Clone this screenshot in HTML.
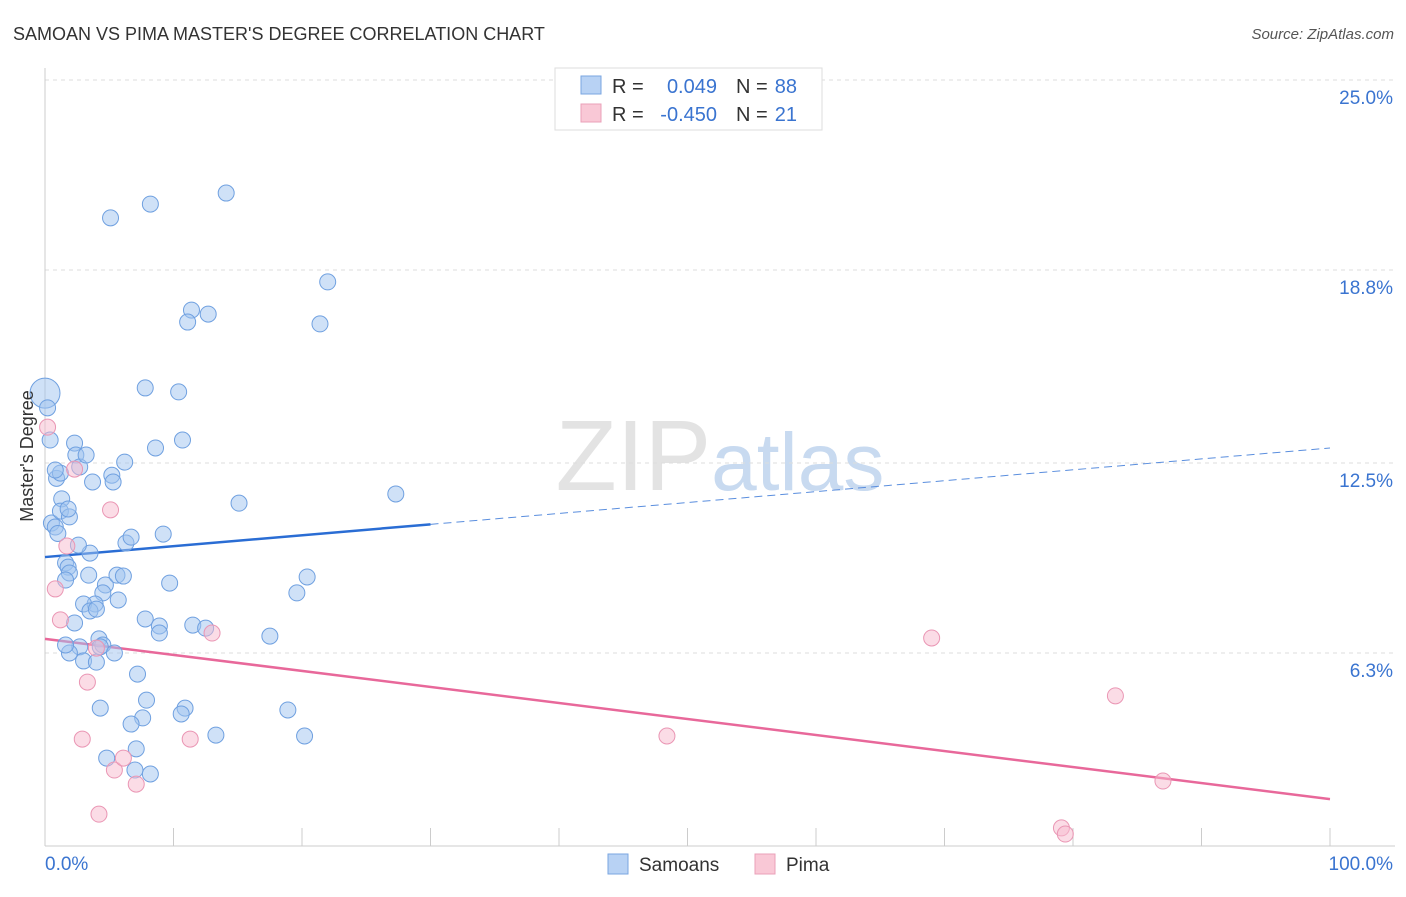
<!DOCTYPE html>
<html><head><meta charset="utf-8"><style>
body{margin:0;background:#fff;font-family:"Liberation Sans",sans-serif}
svg text{font-family:"Liberation Sans",sans-serif}
</style></head><body>
<svg id="chart" width="1406" height="892" xmlns="http://www.w3.org/2000/svg">
<text x="13" y="40" font-size="18" fill="#333">SAMOAN VS PIMA MASTER'S DEGREE CORRELATION CHART</text>
<text x="1394" y="39" font-size="15" fill="#555" text-anchor="end" font-style="italic">Source: ZipAtlas.com</text>
<text x="720" y="490" font-size="100" text-anchor="middle" fill="#e3e3e3" font-family="Liberation Serif">ZIP<tspan fill="#c8daf0" font-family="Liberation Sans" font-size="82">atlas</tspan></text>
<g id="grid"></g>
<g id="axes"></g>
<g id="lines"></g>
<g id="points"></g>
<text transform="translate(33,456) rotate(-90)" font-size="18" fill="#333" text-anchor="middle">Master's Degree</text>
<g>
<rect x="555" y="68" width="267" height="62" fill="#fff" stroke="#ddd"/>
<rect x="581" y="76" width="20" height="18" fill="#b8d2f4" stroke="#7aa6e0"/>
<rect x="581" y="104" width="20" height="18" fill="#f9c8d6" stroke="#eaa0b8"/>
<text x="612" y="93" font-size="20" fill="#333">R =</text>
<text x="717" y="93" font-size="20" fill="#3a74d0" text-anchor="end">0.049</text>
<text x="736" y="93" font-size="20" fill="#333">N =</text>
<text x="797" y="93" font-size="20" fill="#3a74d0" text-anchor="end">88</text>
<text x="612" y="121" font-size="20" fill="#333">R =</text>
<text x="717" y="121" font-size="20" fill="#3a74d0" text-anchor="end">-0.450</text>
<text x="736" y="121" font-size="20" fill="#333">N =</text>
<text x="797" y="121" font-size="20" fill="#3a74d0" text-anchor="end">21</text>
</g>
<g>
<rect x="608" y="854" width="20" height="20" fill="#b8d2f4" stroke="#7aa6e0"/>
<text x="639" y="871" font-size="19" fill="#333">Samoans</text>
<rect x="755" y="854" width="20" height="20" fill="#f9c8d6" stroke="#eaa0b8"/>
<text x="786" y="871" font-size="19" fill="#333">Pima</text>
</g>
</svg>
<script>
const yTicks=[25,18.8,12.5,6.3];
const yTickLabels=["25.0%","18.8%","12.5%","6.3%"];
const xTickLabels=["0.0%","100.0%"];
const samoanX=[0,0.2,0.4,0.9,1.2,1.3,0.5,0.8,1.0,1.2,1.9,1.8,2.3,2.4,2.7,3.2,3.7,5.2,5.3,6.2,3.5,2.6,1.6,1.8,1.9,1.6,3.4,4.7,4.5,5.6,6.1,5.7,3.9,3.0,3.5,4.0,2.3,4.2,4.5,2.7,4.3,5.4,1.9,3.0,4.0,6.3,6.7,9.2,9.7,7.8,8.9,8.9,11.5,12.5,17.5,19.6,20.4,7.2,7.9,10.9,10.6,4.3,7.6,6.7,13.3,18.9,20.2,7.1,4.8,7.0,8.2,5.1,8.2,14.1,22.0,11.4,12.7,11.1,21.4,7.8,10.4,10.7,8.6,15.1,27.3,1.6,0.8];
const samoanY=[14.78,14.3,13.25,12.0,12.17,11.33,10.54,10.41,10.2,10.93,10.74,11.0,13.15,12.76,12.37,12.76,11.88,12.1,11.88,12.53,9.56,9.82,9.24,9.1,8.91,8.68,8.84,8.52,8.26,8.84,8.81,8.03,7.9,7.9,7.67,7.73,7.28,6.76,6.56,6.5,6.5,6.3,6.3,6.04,6.0,9.89,10.08,10.18,8.58,7.41,7.18,6.95,7.21,7.11,6.85,8.26,8.78,5.61,4.76,4.5,4.31,4.5,4.18,3.98,3.62,4.44,3.59,3.17,2.87,2.48,2.35,20.5,20.95,21.31,18.41,17.49,17.36,17.1,17.04,14.95,14.82,13.25,12.99,11.19,11.49,6.56,12.27];
const pimaX=[0.2,2.3,5.1,1.7,0.8,1.2,13.0,4.0,3.3,2.9,11.3,5.4,6.1,7.1,4.2,48.4,69.0,83.3,87.0,79.1,79.4];
const pimaY=[13.67,12.3,10.97,9.79,8.39,7.38,6.95,6.46,5.35,3.49,3.49,2.48,2.87,2.02,1.04,3.59,6.79,4.9,2.12,0.59,0.39];
const samoanTrend=[9.43,12.99];
const pimaTrend=[6.76,1.53];
const NS="http://www.w3.org/2000/svg";
const X=v=>45+v*12.85, Y=v=>846-v*30.64;
function mk(tag,attrs,parent){const e=document.createElementNS(NS,tag);for(const k in attrs)e.setAttribute(k,attrs[k]);document.getElementById(parent).appendChild(e);return e;}
yTicks.forEach((t,i)=>{
 const l=mk('line',{x1:45,x2:1395,y1:Y(t),y2:Y(t),stroke:'#ddd','stroke-dasharray':'4,4'},'grid');
 
 
 const tx=mk('text',{x:1393,y:Y(t)+24,'font-size':19,fill:'#3a74d0','text-anchor':'end'},'grid');
 tx.textContent=yTickLabels[i];
 
 
});
mk('line',{x1:45,x2:45,y1:68,y2:846,stroke:'#ccc'},'axes');
mk('line',{x1:45,x2:1395,y1:846,y2:846,stroke:'#ccc'},'axes');
for(let i=1;i<=10;i++){const t=mk('line',{x1:X(i*10),x2:X(i*10),y1:828,y2:846,stroke:'#ccc'},'axes');}
[[0,'start',45],[100,'end',1393]].forEach((d,i)=>{const t=mk('text',{x:d[2],y:870,'font-size':19,fill:'#3a74d0','text-anchor':d[1]},'axes');t.textContent=xTickLabels[i];});
function ty(tr,x){return tr[0]+(tr[1]-tr[0])*x/100;}
let b1=mk('line',{x1:X(0),y1:Y(ty(samoanTrend,0)),x2:X(30),y2:Y(ty(samoanTrend,30)),stroke:'#2a6dd4','stroke-width':2.5},'lines');

let b2=mk('line',{x1:X(30),y1:Y(ty(samoanTrend,30)),x2:X(100),y2:Y(ty(samoanTrend,100)),stroke:'#5a8ede','stroke-width':1,'stroke-dasharray':'8,5'},'lines');

let p1=mk('line',{x1:X(0),y1:Y(ty(pimaTrend,0)),x2:X(100),y2:Y(ty(pimaTrend,100)),stroke:'#e8689a','stroke-width':2.5},'lines');

samoanX.forEach((x,i)=>{const c=mk('circle',{cx:X(x),cy:Y(samoanY[i]),r:i===0?15:8,fill:'rgba(160,196,240,0.5)',stroke:'#6fa0e0','stroke-width':1},'points');});
pimaX.forEach((x,i)=>{const c=mk('circle',{cx:X(x),cy:Y(pimaY[i]),r:8,fill:'rgba(248,186,206,0.5)',stroke:'#ea96b4','stroke-width':1},'points');});
</script>
</body></html>
